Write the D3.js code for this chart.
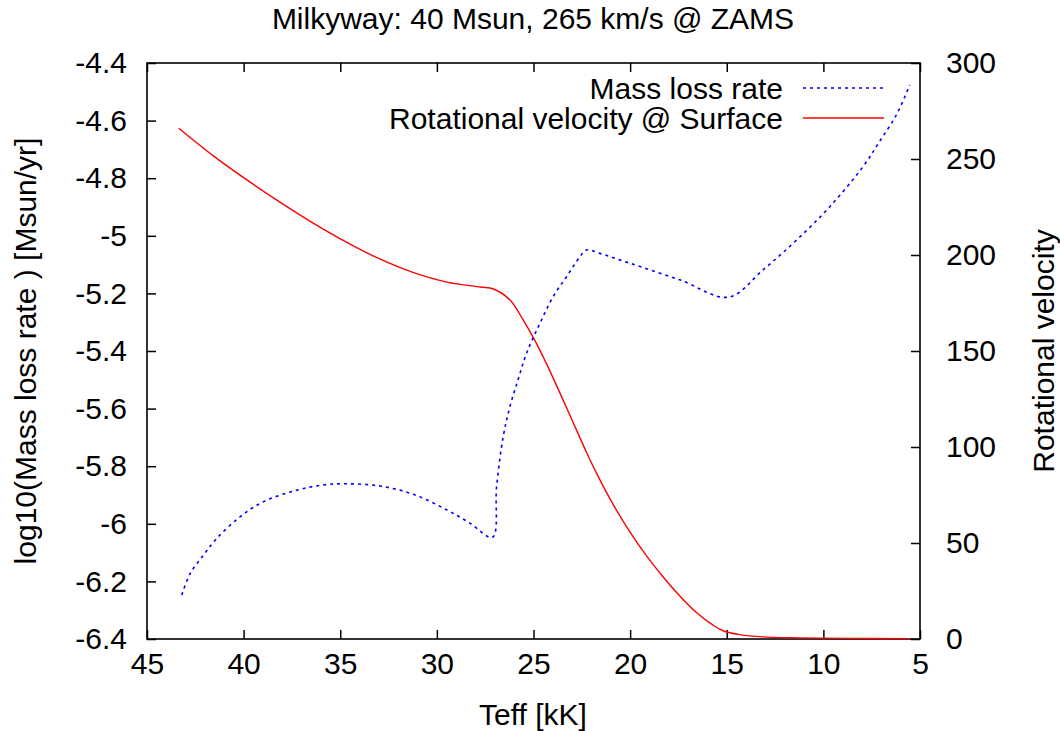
<!DOCTYPE html>
<html>
<head>
<meta charset="utf-8">
<script src="https://cdn.jsdelivr.net/npm/d3@7"></script>
<style>
  body { margin: 0; background: #fff; }
  text { font-family: "Liberation Sans", Arial, sans-serif; fill: #000; }
</style>
</head>
<body>
<svg id="chart" width="1060" height="731"></svg>
<script>
// values
var teffTicks = [45, 40, 35, 30, 25, 20, 15, 10, 5]
var mdotTicks = [-4.4, -4.6, -4.8, -5, -5.2, -5.4, -5.6, -5.8, -6, -6.2, -6.4]
var velTicks = [0, 50, 100, 150, 200, 250, 300]

// mass loss rate (left axis)
var teffMdot = [43.2, 42.76, 42.07, 41.38, 40.17, 38.97, 37.24, 35.86, 34.66, 32.93, 31.2, 29.48, 28.28, 27.12,
                26.91, 26.57, 26.22, 25.8, 25.36, 24.67, 23.98, 23.29, 22.6, 22.26, 21.57, 20.02, 17.43, 14.9,
                13.12, 11.39, 9.67, 7.95, 7.09, 6.22, 5.53]
var logMdot = [-6.247, -6.172, -6.108, -6.05, -5.975, -5.923, -5.883, -5.865, -5.861, -5.869, -5.898, -5.952, -5.998, -6.047,
               -5.871, -5.698, -5.593, -5.5, -5.408, -5.304, -5.211, -5.142, -5.073, -5.049, -5.061, -5.095, -5.153, -5.213,
               -5.118, -5.015, -4.899, -4.76, -4.672, -4.58, -4.476]

// rotational velocity at the surface (right axis)
var teffRot = [43.36, 41.55, 39.83, 38.1, 36.38, 34.66, 32.93, 31.2, 29.48, 27.76, 27.07, 26.22, 25.53, 25.0, 24.33,
               23.3, 22.26, 21.74, 20.88, 20.02, 19.15, 18.29, 17.43, 16.57, 15.71, 15.19, 14.33, 13.12, 11.4, 8.8, 5.53]
var vRot = [266, 251.5, 239.1, 227.4, 216.5, 206.6, 197.8, 190.8, 185.9, 183.3, 182.3, 176.6, 166.1, 156.8, 143.4,
            120.7, 97.3, 86.4, 70.1, 55.9, 43.3, 32.3, 22.4, 13.8, 7.2, 4.3, 2.3, 1.1, 0.6, 0.3, 0.2]

// plot box (window.top is taken, so prefix everything)
var plotLeft = 147, plotRight = 920, plotTop = 63, plotBottom = 639
var fontSize = 30
var tickLen = 9

var svg = d3.select("#chart")

var x = d3.scaleLinear().domain([45, 5]).range([plotLeft, plotRight])
var y = d3.scaleLinear().domain([-6.4, -4.4]).range([plotBottom, plotTop])
var y2 = d3.scaleLinear().domain([0, 300]).range([plotBottom, plotTop])

// bottom axis, ticks inward
var xAxis = d3.axisBottom(x).tickValues(teffTicks).tickSize(-tickLen).tickPadding(14)
    .tickFormat(d3.format("d"))
svg.append("g").attr("class", "axis").attr("transform", "translate(0," + plotBottom + ")").call(xAxis)

// mirrored ticks on top
var xTop = d3.axisTop(x).tickValues(teffTicks).tickSize(-tickLen).tickFormat("")
svg.append("g").attr("class", "axis").attr("transform", "translate(0," + plotTop + ")").call(xTop)

var yAxis = d3.axisLeft(y).tickValues(mdotTicks).tickSize(-tickLen).tickPadding(20)
    .tickFormat(function(d){ return String(d) })
svg.append("g").attr("class", "axis").attr("transform", "translate(" + plotLeft + ",0)").call(yAxis)

var y2Axis = d3.axisRight(y2).tickValues(velTicks).tickSize(-tickLen).tickPadding(26)
    .tickFormat(d3.format("d"))
svg.append("g").attr("class", "axis").attr("transform", "translate(" + plotRight + ",0)").call(y2Axis)

svg.selectAll(".axis .domain").remove()
svg.selectAll(".axis line").attr("stroke", "#000").attr("stroke-width", 1.5)
svg.selectAll(".axis text")
    .style("font-size", fontSize + "px")
    .style("font-family", "Liberation Sans, Arial, sans-serif")
    .attr("fill", "#000")

// frame
svg.append("rect")
    .attr("x", plotLeft).attr("y", plotTop)
    .attr("width", plotRight - plotLeft).attr("height", plotBottom - plotTop)
    .attr("fill", "none").attr("stroke", "#000").attr("stroke-width", 1.6)

// curves
var mdotData = teffMdot.map(function(t, i){ return {t: t, v: logMdot[i]} })
var rotData = teffRot.map(function(t, i){ return {t: t, v: vRot[i]} })

var mdotLine = d3.line().x(function(d){ return x(d.t) }).y(function(d){ return y(d.v) })
    .curve(d3.curveCatmullRom.alpha(0.5))
var rotLine = d3.line().x(function(d){ return x(d.t) }).y(function(d){ return y2(d.v) })
    .curve(d3.curveCatmullRom.alpha(0.5))

svg.append("path").datum(rotData)
    .attr("d", rotLine)
    .attr("fill", "none").attr("stroke", "#ff0000").attr("stroke-width", 1.4)

svg.append("path").datum(mdotData)
    .attr("d", mdotLine)
    .attr("fill", "none").attr("stroke", "#0000ff").attr("stroke-width", 1.6)
    .attr("stroke-dasharray", "3,4")

// legend
var legend = [
    {label: "Mass loss rate", color: "#0000ff", dash: "3,4", y: 88},
    {label: "Rotational velocity @ Surface", color: "#ff0000", dash: null, y: 118}
]
legend.forEach(function(l)
{
    svg.append("text")
        .attr("x", 783).attr("y", l.y).attr("dy", "0.35em")
        .attr("text-anchor", "end")
        .style("font-size", fontSize + "px")
        .text(l.label)
    svg.append("line")
        .attr("x1", 803).attr("x2", 884).attr("y1", l.y).attr("y2", l.y)
        .attr("stroke", l.color).attr("stroke-width", 1.5)
        .attr("stroke-dasharray", l.dash)
})

// titles
svg.append("text")
    .attr("x", 533).attr("y", 29)
    .attr("text-anchor", "middle")
    .style("font-size", fontSize + "px")
    .text("Milkyway: 40 Msun, 265 km/s @ ZAMS")

svg.append("text")
    .attr("x", 533).attr("y", 725)
    .attr("text-anchor", "middle")
    .style("font-size", fontSize + "px")
    .text("Teff [kK]")

svg.append("text")
    .attr("transform", "translate(36," + ((plotTop + plotBottom) / 2) + ") rotate(-90)")
    .attr("text-anchor", "middle")
    .style("font-size", fontSize + "px")
    .text("log10(Mass loss rate ) [Msun/yr]")

svg.append("text")
    .attr("transform", "translate(1054," + ((plotTop + plotBottom) / 2) + ") rotate(-90)")
    .attr("text-anchor", "middle")
    .style("font-size", fontSize + "px")
    .text("Rotational velocity")
</script>
</body>
</html>
